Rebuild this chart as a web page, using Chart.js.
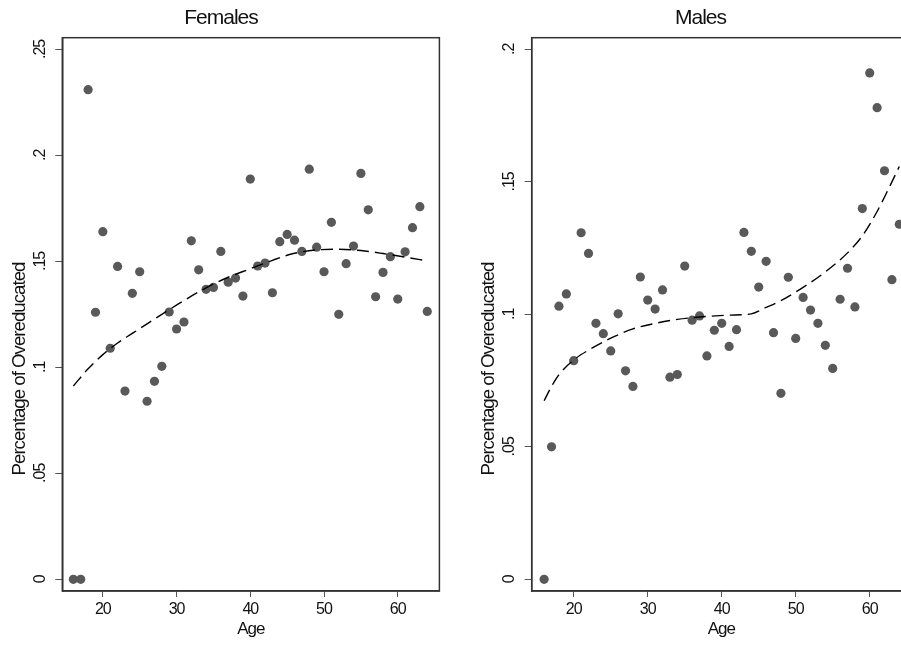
<!DOCTYPE html>
<html>
<head>
<meta charset="utf-8">
<script src="https://cdn.jsdelivr.net/npm/chart.js@4/dist/chart.umd.min.js"></script>
<style>
html, body { margin: 0; padding: 0; overflow: hidden; background: #fff; width: 901px; height: 645px; }
#wrap { position: relative; width: 901px; height: 645px; overflow: hidden; }
canvas { position: absolute; top: 0; }
#cF { left: 0px; }
#cM { left: 469px; }
</style>
</head>
<body>
<div id="wrap">
<canvas id="cF" width="444" height="645"></canvas>
<canvas id="cM" width="464" height="645"></canvas>
</div>
<script>
// ---- Data ----
const femaleAges = [16,17,18,19,20,21,22,23,24,25,26,27,28,29,30,31,32,33,34,35,36,37,38,39,40,41,42,43,44,45,46,47,48,49,50,51,52,53,54,55,56,57,58,59,60,61,62,63,64];
const femaleShare = [0,0,0.231,0.126,0.164,0.109,0.1476,0.0888,0.1349,0.1451,0.084,0.0934,0.1005,0.1261,0.1181,0.1214,0.1597,0.146,0.1368,0.1377,0.1547,0.1402,0.1421,0.1336,0.1888,0.1478,0.1492,0.1352,0.1593,0.1627,0.160,0.1547,0.1935,0.1567,0.1451,0.1684,0.125,0.1489,0.1572,0.1915,0.1743,0.1333,0.1448,0.1522,0.1322,0.1545,0.1659,0.1758,0.1264];
const femaleFitAges = [16,18,20,22,24,26,28,31,34,37,40,43,46,49,52,55,58,61,64];
const femaleFit = [0.0912,0.0993,0.1060,0.1115,0.1160,0.1205,0.1250,0.1315,0.1375,0.1425,0.1465,0.1505,0.1538,0.1554,0.1557,0.1551,0.1537,0.1520,0.1502];

const maleAges = [16,17,18,19,20,21,22,23,24,25,26,27,28,29,30,31,32,33,34,35,36,37,38,39,40,41,42,43,44,45,46,47,48,49,50,51,52,53,54,55,56,57,58,59,60,61,62,63,64];
const maleShare = [0,0.050,0.1031,0.1077,0.0825,0.1308,0.123,0.0966,0.0927,0.0862,0.1002,0.0787,0.0728,0.1141,0.1054,0.102,0.1092,0.0763,0.0773,0.1182,0.0978,0.0994,0.0843,0.094,0.0966,0.0879,0.0942,0.1309,0.1238,0.1103,0.120,0.0931,0.0702,0.114,0.0909,0.1064,0.1016,0.0966,0.0883,0.0796,0.1057,0.1174,0.1028,0.1399,0.1911,0.178,0.1542,0.1131,0.134];
const maleFitAges = [16,17,18,20,22,25,28,31,34,37,41,44,46,48,51,54,57,59,61,63,64];
const maleFit = [0.0674,0.0728,0.0772,0.0828,0.0865,0.0910,0.0945,0.0966,0.0981,0.0990,0.0997,0.1002,0.1026,0.1052,0.1102,0.1160,0.1232,0.1296,0.1388,0.1500,0.1558];

const ageTicks = [20,30,40,50,60];
const femaleYTicks = [0,0.05,0.1,0.15,0.2,0.25];
const femaleYLabels = ['0','.05','.1','.15','.2','.25'];
const maleYTicks = [0,0.05,0.1,0.15,0.2];
const maleYLabels = ['0','.05','.1','.15','.2'];

const titles = ['Females','Males'];
const xTitle = 'Age';
const yTitle = 'Percentage of Overeducated';

// ---- Rendering ----
const FONT = "'Liberation Sans', Arial, Helvetica, sans-serif";

const panelPlugin = {
  id: 'panelDecor',
  beforeDraw(chart) {
    chart.ctx.letterSpacing = '-1px';
  },
  afterDraw(chart, args, opts) {
    const ctx = chart.ctx;
    const a = chart.chartArea;
    const ys = chart.scales.y;
    ctx.save();
    // frame
    ctx.strokeStyle = '#333';
    ctx.lineWidth = 1.5;
    ctx.strokeRect(a.left, a.top, a.right - a.left, a.bottom - a.top);
    // rotated y tick labels
    ctx.fillStyle = '#111';
    ctx.font = '16px ' + FONT;
    ctx.letterSpacing = '-1px';
    ctx.textAlign = 'center';
    ctx.textBaseline = 'middle';
    ys.ticks.forEach((t, i) => {
      const py = ys.getPixelForValue(t.value);
      ctx.save();
      ctx.translate(a.left - 22, py);
      ctx.rotate(-Math.PI / 2);
      ctx.fillText(opts.labels[i], 0, 0);
      ctx.restore();
    });
    // y axis title
    ctx.font = '18.7px ' + FONT;
    ctx.save();
    ctx.translate(a.left - 42.5, 369);
    ctx.rotate(-Math.PI / 2);
    ctx.fillText(yTitle, 0, 0);
    ctx.restore();
    ctx.restore();
  }
};

function makePanel(id, title, ages, share, fitAges, fit, xr, yr, yTicks, yLabels, pad, yWidth) {
  const pts = ages.map((a, i) => ({ x: a, y: share[i] }));
  const fitPts = fitAges.map((a, i) => ({ x: a, y: fit[i] }));
  return new Chart(document.getElementById(id), {
    type: 'scatter',
    data: {
      datasets: [
        {
          type: 'line',
          data: fitPts,
          borderColor: '#000',
          borderWidth: 1.4,
          borderDash: [12, 6],
          pointRadius: 0,
          fill: false,
          cubicInterpolationMode: 'monotone',
          order: 0
        },
        {
          type: 'scatter',
          data: pts,
          backgroundColor: '#595959',
          borderWidth: 0,
          pointRadius: 4.6,
          pointHoverRadius: 4.6,
          order: 1
        }
      ]
    },
    options: {
      responsive: false,
      animation: false,
      devicePixelRatio: 1,
      layout: { padding: { left: pad.left, right: pad.right, top: 0, bottom: 0 } },
      plugins: {
        legend: { display: false },
        tooltip: { enabled: false },
        title: {
          display: true,
          text: title,
          color: '#111',
          font: { family: FONT, size: 21, weight: 'normal', lineHeight: 1.2 },
          padding: { top: 6, bottom: 6.5 }
        },
        panelDecor: { labels: yLabels }
      },
      scales: {
        x: {
          type: 'linear',
          min: xr[0], max: xr[1],
          afterBuildTicks: s => { s.ticks = ageTicks.map(v => ({ value: v })); },
          afterFit: s => { s.height = 54; },
          ticks: { color: '#111', font: { family: FONT, size: 16 }, padding: 3, maxRotation: 0, autoSkip: false },
          grid: { drawOnChartArea: false, drawTicks: true, tickLength: 6, color: '#555', lineWidth: 1 },
          border: { display: true, color: '#333', width: 1.5 },
          title: { display: true, text: xTitle, color: '#111', font: { family: FONT, size: 17 }, padding: { top: 0, bottom: 5.5 } }
        },
        y: {
          type: 'linear',
          min: yr[0], max: yr[1],
          afterBuildTicks: s => { s.ticks = yTicks.map(v => ({ value: v })); },
          afterFit: s => { s.width = yWidth; },
          ticks: { display: false },
          grid: { drawOnChartArea: false, drawTicks: true, tickLength: 7, color: '#555', lineWidth: 1 },
          border: { display: true, color: '#333', width: 1.5 }
        }
      }
    },
    plugins: [panelPlugin]
  });
}

makePanel('cF', titles[0], femaleAges, femaleShare, femaleFitAges, femaleFit,
  [14.5, 65.65], [-0.0055, 0.2555], femaleYTicks, femaleYLabels, { left: 0, right: 2 }, 62.3);
makePanel('cM', titles[1], maleAges, maleShare, maleFitAges, maleFit,
  [14.32, 65.58], [-0.0044, 0.2044], maleYTicks, maleYLabels, { left: 21, right: 22 }, 41.7);
</script>
</body>
</html>
